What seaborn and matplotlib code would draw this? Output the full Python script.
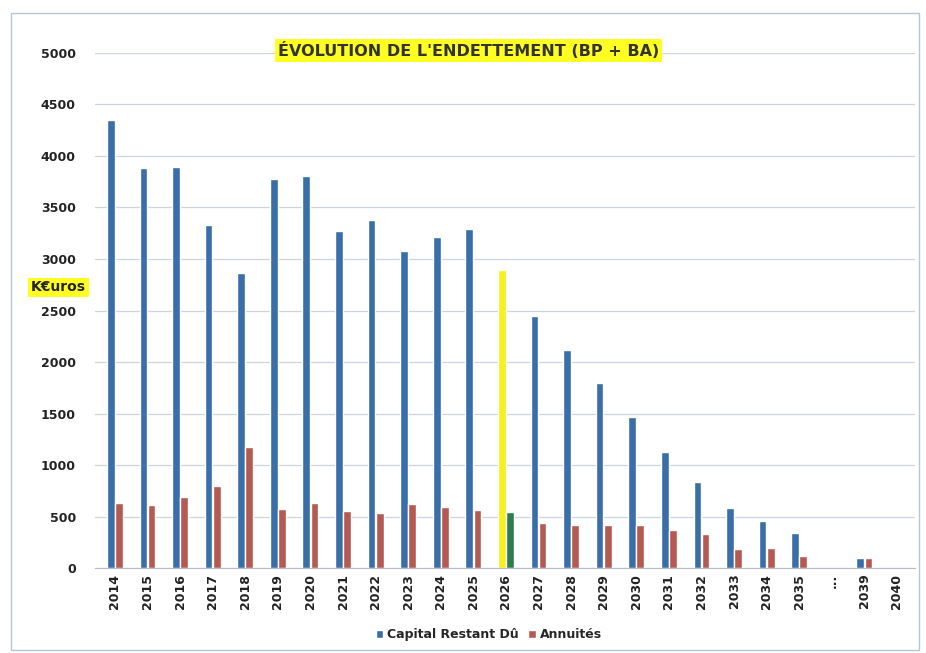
import pandas as pd
import matplotlib
matplotlib.use("Agg")
import matplotlib.pyplot as plt
import seaborn as sns
from matplotlib.patches import Rectangle

# Données (K€)
annees = ['2014', '2015', '2016', '2017', '2018', '2019', '2020', '2021', '2022',
          '2023', '2024', '2025', '2026', '2027', '2028', '2029', '2030', '2031',
          '2032', '2033', '2034', '2035', '...', '2039', '2040']
capital = [4350, 3880, 3890, 3330, 2860, 3780, 3810, 3270, 3380, 3080, 3210, 3290,
           2890, 2450, 2120, 1800, 1470, 1130, 840, 580, 460, 340, 0, 100, 0]
annuites = [630, 610, 690, 800, 1180, 570, 630, 550, 530, 620, 590, 560,
            540, 440, 420, 420, 420, 370, 330, 190, 200, 120, 0, 100, 0]

series = ['Capital Restant Dû', 'Annuités']
couleurs = ['#3a6ea8', '#b55a52']

df = pd.DataFrame({
    'Année': annees * 2,
    'Valeur': capital + annuites,
    'Série': [series[0]] * len(annees) + [series[1]] * len(annees),
})

sns.set_style('white')
plt.rcParams['font.family'] = ['DejaVu Sans']

fig = plt.figure(figsize=(9.26, 6.53), dpi=100)
ax = fig.add_axes([0.103, 0.130, 0.885, 0.789])

sns.barplot(data=df, x='Année', y='Valeur', hue='Série', order=annees,
            hue_order=series, palette=couleurs, width=0.5, gap=0.05,
            saturation=1, ax=ax)

# 2026 mis en évidence : jaune / vert
i26 = annees.index('2026')
ax.patches[i26].set_facecolor('#f5f01e')
ax.patches[len(annees) + i26].set_facecolor('#2e7d4f')

ax.set_ylim(0, 5000)
ax.set_xlim(-0.6, len(annees) - 0.45)
ax.set_yticks(range(0, 5001, 500))
ax.yaxis.grid(True, color='#cdd4e0', linewidth=0.9)
ax.set_axisbelow(True)
for s in ['top', 'right', 'left']:
    ax.spines[s].set_visible(False)
ax.spines['bottom'].set_color('#b8bcc4')

ax.set_xlabel('')
ax.set_ylabel('')
plt.setp(ax.get_xticklabels(), rotation=90, fontsize=9, fontweight='bold', color='#222222')
plt.setp(ax.get_yticklabels(), fontsize=9, fontweight='bold', color='#222222')
ax.tick_params(axis='y', length=0, pad=14)
ax.tick_params(axis='x', length=0, pad=4)

# Titre et unité surlignés
ax.text(0.455, 1.005, "ÉVOLUTION DE L'ENDETTEMENT (BP + BA)", transform=ax.transAxes,
        ha='center', va='center', fontsize=11.5, fontweight='bold', color='#333333',
        bbox=dict(facecolor='#ffff22', edgecolor='none', pad=2))
ax.text(-0.045, 0.545, 'K€uros', transform=ax.transAxes, ha='center', va='center',
        fontsize=10, fontweight='bold', color='#222233',
        bbox=dict(facecolor='#ffff22', edgecolor='none', pad=2))

# Légende en bas
ax.legend(loc='upper center', bbox_to_anchor=(0.48, -0.095), ncol=2, frameon=False,
          handlelength=0.6, handleheight=0.6, handletextpad=0.3, columnspacing=0.8,
          prop={'size': 9, 'weight': 'bold'})

# Cadre extérieur
fig.patches.append(Rectangle((0.012, 0.005), 0.98, 0.975, transform=fig.transFigure,
                             fill=False, edgecolor='#b8c4d4', linewidth=1))

fig.savefig('out.png', dpi=100)
